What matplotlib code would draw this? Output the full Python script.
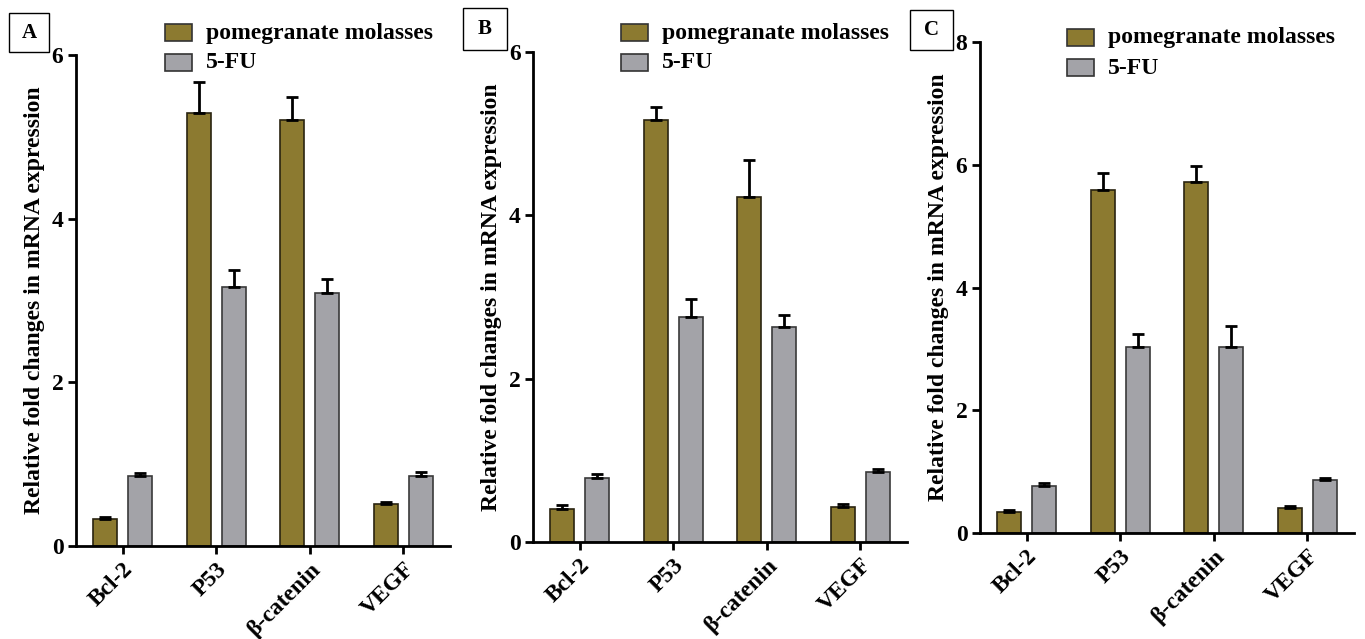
import matplotlib
matplotlib.use('Agg')
import matplotlib.pyplot as plt
from matplotlib.patches import Rectangle
import numpy as np

## Data
genes = ['Bcl-2', 'P53', 'β-catenin', 'VEGF']
series = ['pomegranate molasses', '5-FU']

pm_A = [0.33, 5.29, 5.21, 0.51]
pm_A_err = [0.02, 0.38, 0.28, 0.03]
fu_A = [0.85, 3.17, 3.09, 0.86]
fu_A_err = [0.04, 0.20, 0.17, 0.04]

pm_B = [0.41, 5.17, 4.23, 0.43]
pm_B_err = [0.04, 0.16, 0.45, 0.04]
fu_B = [0.78, 2.76, 2.63, 0.86]
fu_B_err = [0.05, 0.22, 0.15, 0.04]

pm_C = [0.34, 5.59, 5.72, 0.41]
pm_C_err = [0.04, 0.27, 0.26, 0.03]
fu_C = [0.77, 3.03, 3.03, 0.86]
fu_C_err = [0.04, 0.21, 0.34, 0.03]

panel_labels = ['A', 'B', 'C']
y_max = [6, 6, 8]
y_ticks = [[0, 2, 4, 6], [0, 2, 4, 6], [0, 2, 4, 6, 8]]

PM_COLOR = '#8c7a30'
FU_COLOR = '#a3a3a8'
FONT = 'Liberation Serif'
FS = 17

plt.rcParams['font.family'] = [FONT, 'DejaVu Serif']
plt.rcParams['font.weight'] = 'bold'

W, H = 1365, 639
fig = plt.figure(figsize=(W / 100, H / 100), dpi=100)

# pixel boxes (left, right, bottom, top) of each plot area
boxes = [(76, 450, 546, 55), (533, 907, 542, 52), (980, 1354, 533, 42)]
label_boxes = [(9, 49, 13, 52), (463, 507, 8, 50), (910, 953, 10, 50)]
legend_pos = [(165, 24), (621, 24), (1067, 29)]

data = [(pm_A, pm_A_err, fu_A, fu_A_err),
        (pm_B, pm_B_err, fu_B, fu_B_err),
        (pm_C, pm_C_err, fu_C, fu_C_err)]

x = np.arange(len(genes))
bw = 0.256
off = 0.187

for i, (pm, pm_err, fu, fu_err) in enumerate(data):
    l, r, b, t = boxes[i]
    ax = fig.add_axes([l / W, 1 - b / H, (r - l) / W, (b - t) / H])
    zeros = [0] * len(genes)
    ax.bar(x - off, pm, bw, color=PM_COLOR, edgecolor='#2a2410', linewidth=1.2,
           yerr=[zeros, pm_err], error_kw=dict(ecolor='black', elinewidth=2, capsize=4, capthick=2),
           label=series[0], zorder=2)
    ax.bar(x + off, fu, bw, color=FU_COLOR, edgecolor='#3a3a3a', linewidth=1.2,
           yerr=[zeros, fu_err], error_kw=dict(ecolor='black', elinewidth=2, capsize=4, capthick=2),
           label=series[1], zorder=2)
    ax.set_xlim(-0.5, 3.5)
    ax.set_ylim(0, y_max[i])
    ax.set_yticks(y_ticks[i])
    ax.set_yticklabels([str(v) for v in y_ticks[i]], fontsize=FS, fontweight='bold')
    ax.set_xticks(x)
    ax.set_xticklabels(genes, rotation=45, ha='right', rotation_mode='anchor',
                       fontsize=FS, fontweight='bold')
    ax.tick_params(axis='both', direction='out', length=6, width=2, pad=3)
    for s in ['top', 'right']:
        ax.spines[s].set_visible(False)
    for s in ['left', 'bottom']:
        ax.spines[s].set_linewidth(2)
    ax.set_ylabel('Relative fold changes in mRNA expression', fontsize=FS, fontweight='bold', labelpad=5)
    ax.patch.set_alpha(0)

    # legend drawn like the original (boxes and text)
    lx, ly = legend_pos[i]
    for k, (name, col) in enumerate(zip(series, [PM_COLOR, FU_COLOR])):
        yy = ly + k * 30
        fig.patches.append(Rectangle((lx / W, 1 - (yy + 17) / H), 27 / W, 17 / H,
                                     transform=fig.transFigure, facecolor=col,
                                     edgecolor='#333333', linewidth=1.2))
        fig.text((lx + 41) / W, 1 - (yy + 9) / H, name, fontsize=FS, fontweight='bold',
                 va='center', ha='left')

    # panel letter in a box
    bl, br, bt, bb = label_boxes[i]
    fig.patches.append(Rectangle((bl / W, 1 - bb / H), (br - bl) / W, (bb - bt) / H,
                                 transform=fig.transFigure, facecolor='white',
                                 edgecolor='black', linewidth=1))
    fig.text((bl + br) / 2 / W, 1 - (bt + bb) / 2 / H, panel_labels[i], fontsize=15,
             fontweight='bold', ha='center', va='center')

fig.savefig('out.png', dpi=100)
